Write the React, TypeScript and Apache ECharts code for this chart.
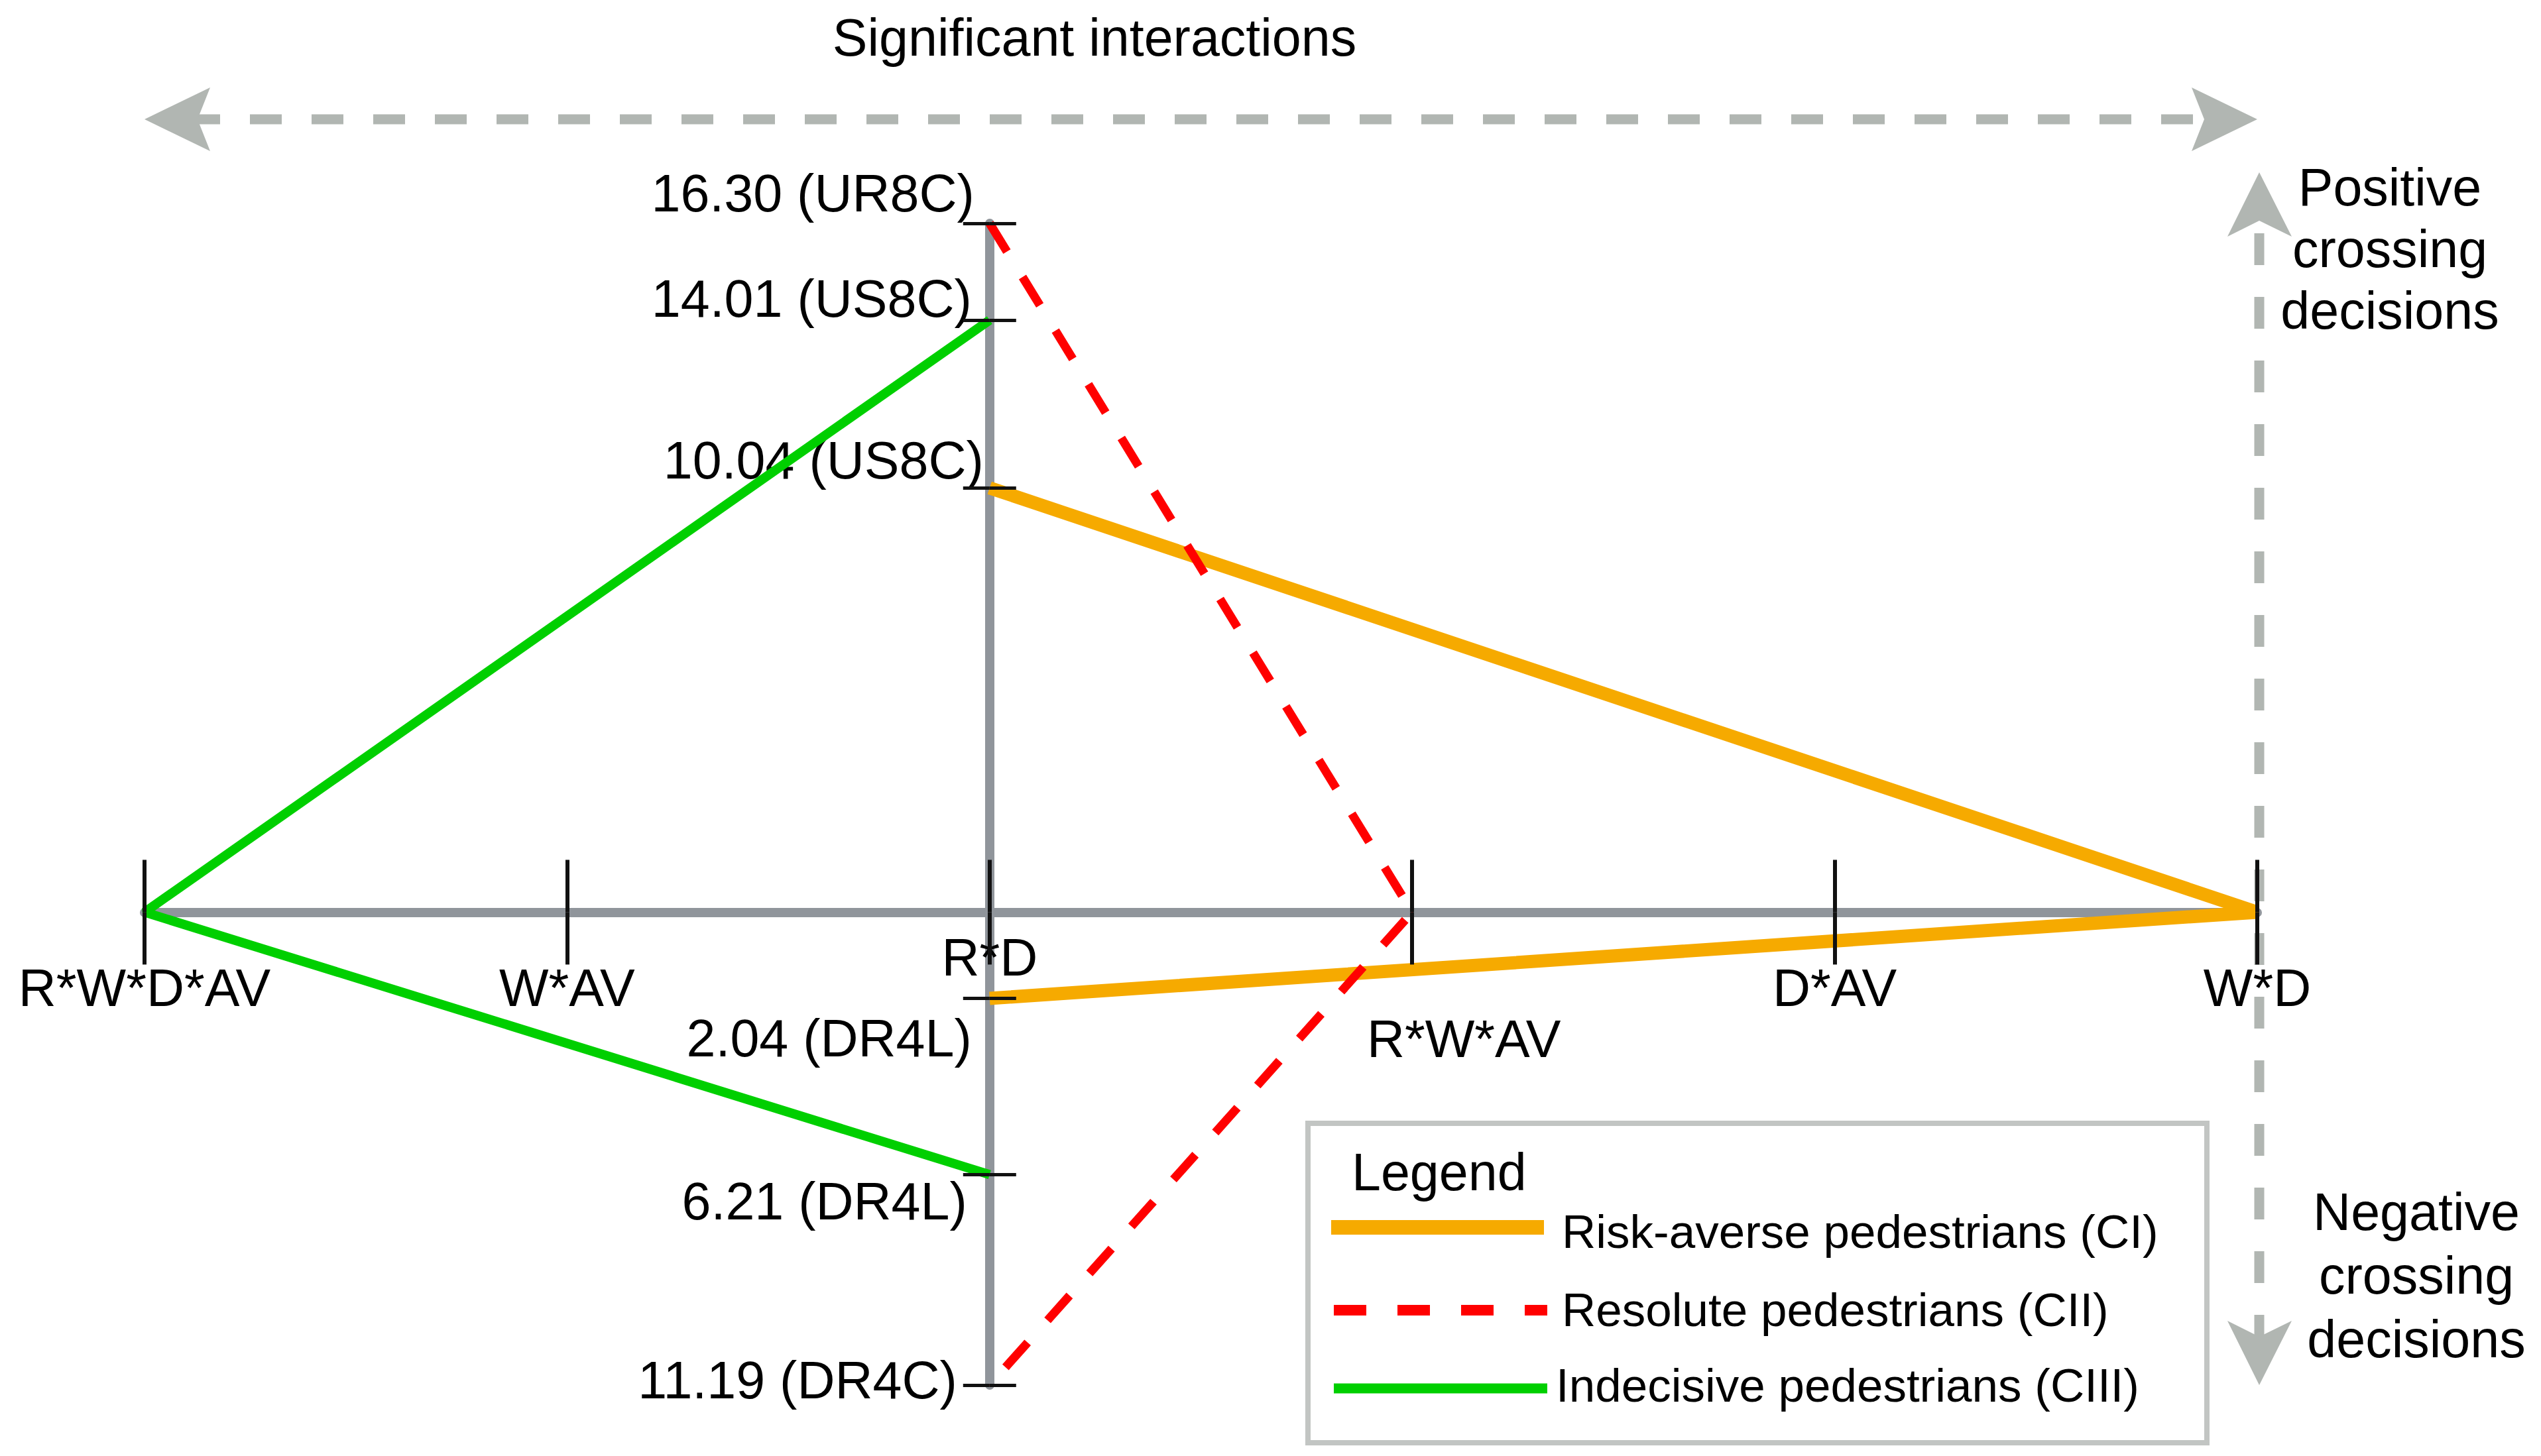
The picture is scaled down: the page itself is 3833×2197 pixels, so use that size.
import { useEffect, useRef } from 'react';
import * as echarts from 'echarts';

// ---- data ----
const interactions = ['R*W*D*AV', 'W*AV', 'R*D', 'R*W*AV', 'D*AV', 'W*D'];
const pivotInteraction = 'R*D';
const classNames = ['Risk-averse pedestrians (CI)', 'Resolute pedestrians (CII)', 'Indecisive pedestrians (CIII)'];
const classInteraction = ['W*D', 'R*W*AV', 'R*W*D*AV'];
const positiveValues = [10.04, 16.3, 14.01];
const positiveCodes = ['US8C', 'UR8C', 'US8C'];
const negativeValues = [2.04, 11.19, 6.21];
const negativeCodes = ['DR4L', 'DR4C', 'DR4L'];
const titleText = 'Significant interactions';
const positiveNote = ['Positive', 'crossing', 'decisions'];
const negativeNote = ['Negative', 'crossing', 'decisions'];
const legendTitle = 'Legend';

const F = "'Liberation Sans', Arial, sans-serif";
const AXIS_GRAY = '#90959b';
const ARROW_GRAY = '#b1b6b2';
const COLORS = ['#f6aa00', '#ff0000', '#00cf00'];
const WIDTHS = [20, 13, 14];
const TYPES: any[] = ['solid', [50, 45], 'solid'];
const ZS = [3, 5, 4];

export default function App() {
  const ref = useRef<HTMLDivElement>(null);

  useEffect(() => {
    if (!ref.current) return;
    const chart = echarts.init(ref.current, null, { renderer: 'svg' });

    const pivotIdx = interactions.indexOf(pivotInteraction);
    const xOf = (name: string) => interactions.indexOf(name) - pivotIdx;
    const xMin = -pivotIdx;
    const xMax = interactions.length - 1 - pivotIdx;
    const yMax = Math.max(...positiveValues);
    const yMin = -Math.max(...negativeValues);
    const tickValues = [...positiveValues, ...negativeValues.map((v) => -v)];

    // label placement (distance from the vertical axis, vertical shift)
    const posPlace = [
      { d: 8, dy: -42 },
      { d: 22, dy: -46 },
      { d: 26, dy: -33 },
    ];
    const negPlace = [
      { d: 26, dy: 60 },
      { d: 48, dy: -8 },
      { d: 33, dy: 40 },
    ];

    const labelBase = { show: true, position: 'left', color: '#000', fontSize: 79, fontFamily: F };

    const series = classNames.map((name, i) => ({
      type: 'line',
      name,
      xAxisIndex: 1,
      yAxisIndex: 0,
      z: ZS[i],
      silent: true,
      symbol: 'circle',
      symbolSize: 2,
      showSymbol: true,
      itemStyle: { color: COLORS[i] },
      lineStyle: { color: COLORS[i], width: WIDTHS[i], type: TYPES[i], cap: 'butt', join: 'bevel' },
      emphasis: { disabled: true },
      data: [
        {
          value: [0, positiveValues[i]],
          label: {
            ...labelBase,
            distance: posPlace[i].d,
            offset: [0, posPlace[i].dy],
            formatter: `${positiveValues[i].toFixed(2)} (${positiveCodes[i]})`,
          },
        },
        { value: [xOf(classInteraction[i]), 0] },
        {
          value: [0, -negativeValues[i]],
          label: {
            ...labelBase,
            distance: negPlace[i].d,
            offset: [0, negPlace[i].dy],
            formatter: `${negativeValues[i].toFixed(2)} (${negativeCodes[i]})`,
          },
        },
      ],
    }));

    const xCommon = {
      type: 'value',
      min: xMin,
      max: xMax,
      interval: 1,
      splitLine: { show: false },
    };
    const yCommon = {
      type: 'value',
      min: yMin,
      max: yMax,
      splitLine: { show: false },
    };
    const hiddenLine = { show: true, onZero: true, onZeroAxisIndex: 0, lineStyle: { color: 'rgba(0,0,0,0)', width: 0 } };
    const tickStyle = { color: '#111', width: 6 };

    const textStyle = (extra: any) => ({ fill: '#000', fontSize: 79, fontFamily: F, ...extra });

    const option: any = {
      animation: false,
      backgroundColor: '#ffffff',
      grid: { left: 218, right: 428, top: 337, bottom: 107, containLabel: false, outerBoundsMode: 'none' },
      xAxis: [
        {
          // labels only; moved up to the zero line below
          ...xCommon,
          position: 'bottom',
          z: 1,
          offset: 0,
          axisLine: { show: false, onZero: false },
          axisTick: { show: false },
          axisLabel: {
            show: true,
            showMinLabel: true,
            showMaxLabel: true,
            margin: 68,
            verticalAlign: 'middle',
            color: '#000',
            fontSize: 79,
            fontFamily: F,
            formatter: (v: number) => {
              const name = interactions[Math.round(v) + pivotIdx];
              if (name === undefined) return '';
              let key = 'n';
              if (name === pivotInteraction) key = 'u';
              else if (interactions.indexOf(name) === pivotIdx + 1) key = 'd';
              return `{${key}|${name}}`;
            },
            rich: {
              u: { fontSize: 79, fontFamily: F, color: '#000' },
              n: { fontSize: 79, fontFamily: F, color: '#000', padding: [92, 0, 0, 0] },
              d: { fontSize: 79, fontFamily: F, color: '#000', padding: [246, 0, 0, 156] },
            },
          },
        },
        {
          ...xCommon,
          position: 'bottom',
          z: 1,
          axisLine: { show: true, onZero: true, onZeroAxisIndex: 0, lineStyle: { color: AXIS_GRAY, width: 14 } },
          axisTick: { show: false },
          axisLabel: { show: false },
        },
        {
          ...xCommon,
          position: 'top',
          z: 10,
          axisLine: hiddenLine,
          axisTick: { show: true, inside: false, length: 79, lineStyle: tickStyle },
          axisLabel: { show: false },
        },
        {
          ...xCommon,
          position: 'top',
          z: 10,
          axisLine: hiddenLine,
          axisTick: { show: true, inside: true, length: 79, lineStyle: tickStyle },
          axisLabel: { show: false },
        },
      ],
      yAxis: [
        {
          ...yCommon,
          position: 'left',
          z: 1,
          axisLine: { show: true, onZero: true, onZeroAxisIndex: 1, lineStyle: { color: AXIS_GRAY, width: 14 } },
          axisTick: { show: false },
          axisLabel: { show: false },
        },
        {
          ...yCommon,
          position: 'right',
          z: 10,
          axisLine: { ...hiddenLine, onZeroAxisIndex: 1 },
          axisTick: { show: true, inside: false, length: 40, customValues: tickValues, lineStyle: { color: '#111', width: 5 } },
          axisLabel: { show: false },
        },
        {
          ...yCommon,
          position: 'right',
          z: 10,
          axisLine: { ...hiddenLine, onZeroAxisIndex: 1 },
          axisTick: { show: true, inside: true, length: 40, customValues: tickValues, lineStyle: { color: '#111', width: 5 } },
          axisLabel: { show: false },
        },
      ],
      series,
      graphic: [
        {
          type: 'text',
          x: 1651,
          y: 56,
          z: 1,
          style: textStyle({ text: titleText, textAlign: 'center', textVerticalAlign: 'middle' }),
        },
        // horizontal double arrow
        {
          type: 'line',
          z: 1,
          shape: { x1: 284, y1: 180, x2: 3330, y2: 180 },
          style: { stroke: ARROW_GRAY, lineWidth: 15, lineDash: [48, 45] },
        },
        {
          type: 'polygon',
          z: 1,
          shape: { points: [[218, 180], [317, 132], [298, 180], [317, 228]] },
          style: { fill: ARROW_GRAY },
        },
        {
          type: 'polygon',
          z: 1,
          shape: { points: [[3405, 180], [3306, 132], [3325, 180], [3306, 228]] },
          style: { fill: ARROW_GRAY },
        },
        // vertical double arrow
        {
          type: 'line',
          z: 1,
          shape: { x1: 3408, y1: 352, x2: 3408, y2: 2020 },
          style: { stroke: ARROW_GRAY, lineWidth: 15, lineDash: [48, 48] },
        },
        {
          type: 'polygon',
          z: 1,
          shape: { points: [[3408, 260], [3457, 357], [3408, 333], [3360, 357]] },
          style: { fill: ARROW_GRAY },
        },
        {
          type: 'polygon',
          z: 1,
          shape: { points: [[3408, 2090], [3457, 1993], [3408, 2017], [3360, 1993]] },
          style: { fill: ARROW_GRAY },
        },
        {
          type: 'text',
          x: 3605,
          y: 375,
          z: 1,
          style: textStyle({ text: positiveNote.join('\n'), textAlign: 'center', textVerticalAlign: 'middle', lineHeight: 93 }),
        },
        {
          type: 'text',
          x: 3645,
          y: 1924,
          z: 1,
          style: textStyle({ text: negativeNote.join('\n'), textAlign: 'center', textVerticalAlign: 'middle', lineHeight: 96 }),
        },
        // legend box
        {
          type: 'rect',
          z: 20,
          shape: { x: 1973, y: 1695, width: 1356, height: 482 },
          style: { fill: '#ffffff', stroke: '#c2c5c3', lineWidth: 8 },
        },
        {
          type: 'text',
          x: 2039,
          y: 1768,
          z: 21,
          style: textStyle({ text: legendTitle, textAlign: 'left', textVerticalAlign: 'middle' }),
        },
        {
          type: 'line',
          z: 21,
          shape: { x1: 2008, y1: 1852, x2: 2329, y2: 1852 },
          style: { stroke: COLORS[0], lineWidth: 22 },
        },
        {
          type: 'line',
          z: 21,
          shape: { x1: 2012, y1: 1977, x2: 2334, y2: 1977 },
          style: { stroke: COLORS[1], lineWidth: 16, lineDash: [49, 47] },
        },
        {
          type: 'line',
          z: 21,
          shape: { x1: 2012, y1: 2095, x2: 2334, y2: 2095 },
          style: { stroke: COLORS[2], lineWidth: 15 },
        },
        {
          type: 'text',
          x: 2356,
          y: 1858,
          z: 21,
          style: textStyle({ text: classNames[0], fontSize: 71, textAlign: 'left', textVerticalAlign: 'middle' }),
        },
        {
          type: 'text',
          x: 2356,
          y: 1976,
          z: 21,
          style: textStyle({ text: classNames[1], fontSize: 71, textAlign: 'left', textVerticalAlign: 'middle' }),
        },
        {
          type: 'text',
          x: 2347,
          y: 2090,
          z: 21,
          style: textStyle({ text: classNames[2], fontSize: 71, textAlign: 'left', textVerticalAlign: 'middle' }),
        },
      ],
    };

    chart.setOption(option);

    // move the label axis up onto the zero line, using the library's own y scale
    const zeroY = chart.convertToPixel({ yAxisIndex: 0 }, 0) as unknown as number;
    const bottomY = chart.convertToPixel({ yAxisIndex: 0 }, yMin) as unknown as number;
    if (isFinite(zeroY) && isFinite(bottomY)) {
      chart.setOption({ xAxis: [{ offset: zeroY - bottomY }] });
    }

    return () => chart.dispose();
  }, []);

  return (
    <div
      ref={ref}
      style={{ position: 'absolute', left: 0, top: 0, width: 3833, height: 2197, background: '#fff' }}
    />
  );
}
